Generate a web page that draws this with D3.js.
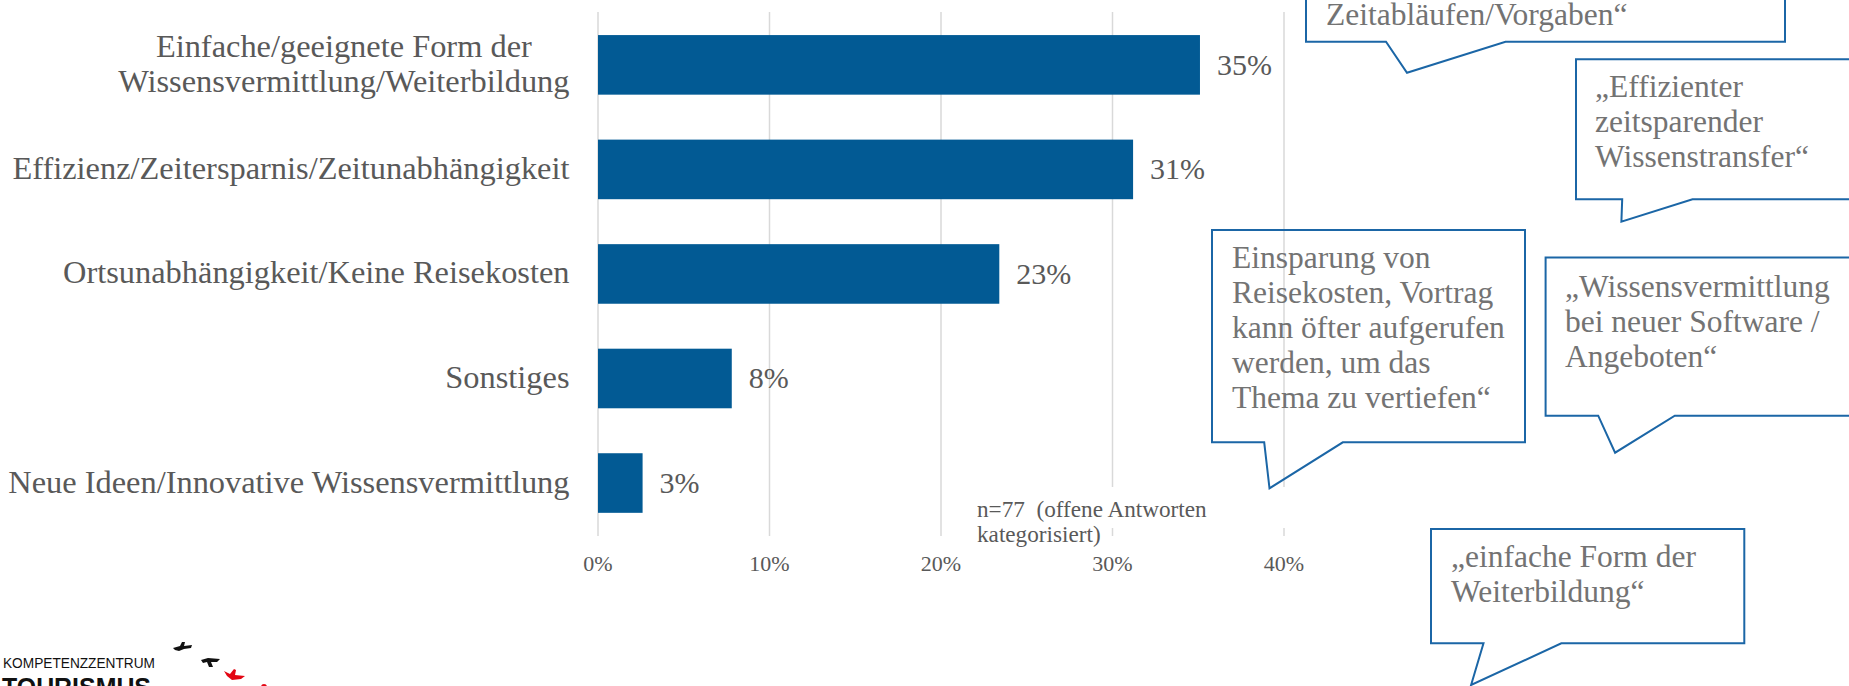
<!DOCTYPE html>
<html>
<head>
<meta charset="utf-8">
<script src="https://cdn.jsdelivr.net/npm/d3@7"></script>
<style>
  body { margin: 0; background: #fff; overflow: hidden; }
  svg { display: block; font-family: "Liberation Serif", serif; }
</style>
</head>
<body>
<div class="chart"></div>
<script>
// categories (line breaks as in the original labels)
const categories = [
    'Einfache/geeignete Form der\nWissensvermittlung/Weiterbildung',
    'Effizienz/Zeitersparnis/Zeitunabhängigkeit',
    'Ortsunabhängigkeit/Keine Reisekosten',
    'Sonstiges',
    'Neue Ideen/Innovative Wissensvermittlung'
]
const shares = [0.351, 0.312, 0.234, 0.078, 0.026]
const xTicks = [0, 0.1, 0.2, 0.3, 0.4]
const noteLines = ['n=77  (offene Antworten', 'kategorisiert)']

// quotes in the speech bubbles
const quotes = [
    ['Zeitabläufen/Vorgaben“'],
    ['„Effizienter', 'zeitsparender', 'Wissenstransfer“'],
    ['Einsparung von', 'Reisekosten, Vortrag', 'kann öfter aufgerufen', 'werden, um das', 'Thema zu vertiefen“'],
    ['„Wissensvermittlung', 'bei neuer Software /', 'Angeboten“'],
    ['„einfache Form der', 'Weiterbildung“']
]
// bubble placement: box edges, pointer base/tip, first text baseline
const bubbleLayout = [
    {l: 1306, r: 1785, t: -60, b: 41.7, p1: 1386, tx: 1407, ty: 72.7, p2: 1505.5, x: 1326, y: 25},
    {l: 1576, r: 1880, t: 59.3, b: 199.3, p1: 1622.2, tx: 1621.4, ty: 221.7, p2: 1692.5, x: 1595, y: 96.7},
    {l: 1212, r: 1525, t: 230, b: 442.3, p1: 1264.2, tx: 1269.5, ty: 488.3, p2: 1342.8, x: 1232, y: 268.3},
    {l: 1545.6, r: 1880, t: 257.5, b: 415.7, p1: 1598.2, tx: 1615.1, ty: 452.7, p2: 1674.8, x: 1565, y: 296.7},
    {l: 1431, r: 1744.3, t: 529, b: 643.3, p1: 1483.5, tx: 1471.1, ty: 685, p2: 1561.3, x: 1451, y: 566.7}
]

const width = 1849
const height = 686
const barColor = '#025a94'
const textColor = '#595959'

const svg = d3.select('.chart').append('svg').attr('width', width).attr('height', height)

const x = d3.scaleLinear().domain([0, 0.4]).range([598, 1284])
const y = d3.scaleBand().domain(categories).range([12.6, 535.3]).paddingInner(0.43).paddingOuter(0.215)

// gridlines
svg.selectAll('line.grid')
    .data(xTicks)
    .enter()
    .append('line')
    .attr('class', 'grid')
    .attr('x1', d=>x(d)).attr('x2', d=>x(d))
    .attr('y1', 12).attr('y2', 536)
    .attr('stroke', '#d9d9d9')
    .attr('stroke-width', 1.5)

// bars
svg.selectAll('rect.bar')
    .data(shares)
    .enter()
    .append('rect')
    .attr('class', 'bar')
    .attr('x', x(0))
    .attr('y', (d,i)=>y(categories[i]))
    .attr('width', d=>x(d)-x(0))
    .attr('height', y.bandwidth())
    .attr('fill', barColor)

// value labels
svg.selectAll('text.value')
    .data(shares)
    .enter()
    .append('text')
    .attr('x', d=>x(d)+17)
    .attr('y', (d,i)=>y(categories[i])+y.bandwidth()/2+10)
    .text(d=>d3.format('.0%')(d))
    .attr('font-size', 30)
    .attr('fill', textColor)

// category labels: lines centred on each other, block right aligned
const labelRight = 569.5
categories.forEach(c=>{
    const lines = c.split('\n')
    const cy = y(c) + y.bandwidth()/2
    const t = svg.append('text')
        .attr('font-size', 32.4)
        .attr('fill', textColor)
        .attr('text-anchor', 'middle')
    const spans = lines.map((s,i)=>t.append('tspan')
        .attr('y', cy + 9.5 + (i-(lines.length-1)/2)*34.3)
        .text(s))
    const w = d3.max(spans, s=>s.node().getComputedTextLength())
    spans.forEach(s=>s.attr('x', labelRight - w/2))
})

// note box covers the gridlines
svg.append('rect')
    .attr('x', 970).attr('y', 487)
    .attr('width', 322).attr('height', 41)
    .attr('fill', '#fff')
svg.selectAll('text.note')
    .data(noteLines)
    .enter()
    .append('text')
    .attr('x', 977)
    .attr('y', (d,i)=>517+i*25)
    .text(d=>d)
    .attr('font-size', 23.2)
    .attr('fill', textColor)
    .style('white-space', 'pre')

// x tick labels
svg.selectAll('text.tick')
    .data(xTicks)
    .enter()
    .append('text')
    .attr('x', d=>x(d))
    .attr('y', 571)
    .attr('text-anchor', 'middle')
    .text(d=>d3.format('.0%')(d))
    .attr('font-size', 22)
    .attr('fill', textColor)

// speech bubbles
const bubbles = svg.selectAll('g.bubble')
    .data(quotes)
    .enter()
    .append('g')
bubbles.append('path')
    .attr('d', (d,i)=>{
        const b = bubbleLayout[i]
        return `M${b.l},${b.t}H${b.r}V${b.b}H${b.p2}L${b.tx},${b.ty}L${b.p1},${b.b}H${b.l}Z`
    })
    .attr('fill', 'none')
    .attr('stroke', '#1b66a6')
    .attr('stroke-width', 2)
bubbles.each(function(d,i){
    const b = bubbleLayout[i]
    d3.select(this).selectAll('text')
        .data(d)
        .enter()
        .append('text')
        .attr('x', b.x)
        .attr('y', (s,j)=>b.y+j*34.9)
        .text(s=>s)
        .attr('font-size', 31.5)
        .attr('fill', '#737373')
})

// logo
const logo = svg.append('g').style('font-family', '"Liberation Sans", Arial, sans-serif')
logo.append('text')
    .attr('x', 3).attr('y', 667.7)
    .attr('font-size', 14.4)
    .attr('textLength', 152)
    .attr('lengthAdjust', 'spacingAndGlyphs')
    .attr('fill', '#111')
    .text('KOMPETENZZENTRUM')
logo.append('text')
    .attr('x', 2).attr('y', 696)
    .attr('font-size', 25)
    .attr('font-weight', 'bold')
    .attr('textLength', 149)
    .attr('lengthAdjust', 'spacingAndGlyphs')
    .attr('fill', '#111')
    .text('TOURISMUS')
const bird = 'M0,6 L7,4 L9,0 L12,0 L11,4 L19,3 L18,6 L11,7 L6,9 L2,8 Z'
logo.append('path').attr('d', bird).attr('transform', 'translate(173,642)').attr('fill', '#111')
logo.append('path').attr('d', 'M0,2 L7,0 L19,1 L16,4 L10,4 L12,9 L8,9 L6,4 L2,5 Z').attr('transform', 'translate(201,658)').attr('fill', '#111')
logo.append('path').attr('d', 'M0,2 L6,5 L10,0 L12,1 L11,6 L21,7 L17,10 L8,11 L3,7 Z').attr('transform', 'translate(224,669)').attr('fill', '#e30613')
logo.append('circle').attr('cx', 264).attr('cy', 687).attr('r', 3).attr('fill', '#e30613')
</script>
</body>
</html>
